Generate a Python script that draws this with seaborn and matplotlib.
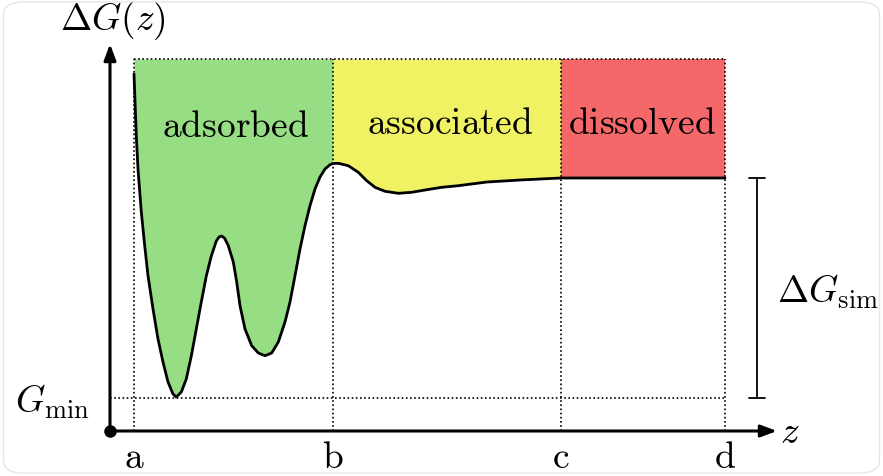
import numpy as np
import pandas as pd
import matplotlib
matplotlib.use("Agg")
import matplotlib.pyplot as plt
from matplotlib.patches import FancyBboxPatch
import seaborn as sns

# Free-energy profile along the surface normal z
z_profile = [0.24, 0.263, 0.28, 0.313, 0.347, 0.38, 0.43, 0.48, 0.53, 0.58, 0.63,
             0.663, 0.713, 0.763, 0.813, 0.863, 0.913, 0.963, 1.013, 1.063, 1.09,
             1.115, 1.145, 1.183, 1.233, 1.267, 1.30, 1.35, 1.417, 1.483, 1.55,
             1.617, 1.683, 1.75, 1.80, 1.85, 1.90, 1.95, 2.00, 2.05, 2.10, 2.15,
             2.20, 2.23, 2.283, 2.383, 2.483, 2.567, 2.65, 2.75, 2.883, 3.017,
             3.15, 3.317, 3.483, 3.77, 4.10, 4.51, 6.15]
g_profile = [3.57, 2.95, 2.62, 2.19, 1.853, 1.553, 1.22, 0.92, 0.69, 0.49, 0.37,
             0.34, 0.39, 0.52, 0.75, 1.02, 1.29, 1.55, 1.75, 1.90, 1.94,
             1.95, 1.93, 1.853, 1.69, 1.49, 1.253, 1.02, 0.853, 0.78, 0.753,
             0.78, 0.89, 1.09, 1.29, 1.553, 1.82, 2.053, 2.253, 2.42, 2.54, 2.62,
             2.663, 2.675, 2.677, 2.653, 2.587, 2.503, 2.437, 2.397, 2.377, 2.387,
             2.41, 2.437, 2.453, 2.49, 2.51, 2.53, 2.53]

# Region boundaries and labels
boundaries = [0.24, 2.23, 4.51, 6.15]
boundary_labels = ["a", "b", "c", "d"]
region_names = ["adsorbed", "associated", "dissolved"]
region_label_pos = [(1.26, 3.05), (3.40, 3.08), (5.32, 3.08)]
region_colors = ["#96dd84", "#f0f264", "#f4686a"]
g_top = 3.72
g_min = 0.33
g_plateau = 2.53

sns.set_theme(style="white")
plt.rcParams["mathtext.fontset"] = "cm"
plt.rcParams["font.family"] = ["DejaVu Serif"]
plt.rcParams["text.color"] = "black"

df = pd.DataFrame({"z": z_profile, "G": g_profile})

fig = plt.figure(figsize=(8.83, 4.77), dpi=100)
ax = fig.add_axes([0, 0, 1, 1])
ax.set_xlim(-1.10, 7.73)
ax.set_ylim(-0.45, 4.32)
ax.axis("off")

z = np.array(z_profile)
g = np.array(g_profile)
for lo, hi, col in zip(boundaries[:-1], boundaries[1:], region_colors):
    m = (z >= lo - 1e-9) & (z <= hi + 1e-9)
    ax.fill_between(z[m], g[m], g_top, color=col, lw=0, zorder=1)

# dotted guide lines
dot = dict(color="black", lw=1.2, ls=(0, (1, 1.5)), zorder=2)
ax.plot([boundaries[0], boundaries[-1]], [g_top, g_top], **dot)
for b in boundaries:
    ax.plot([b, b], [0, g_top], **dot)
ax.plot([0, boundaries[-1]], [g_min, g_min], **dot)

sns.lineplot(data=df, x="z", y="G", ax=ax, color="black", lw=2.0,
             sort=False, estimator=None, zorder=3)
ax.lines[-1].set_solid_joinstyle("round")

# axes arrows
arrow = dict(arrowstyle="-|>,head_length=0.8,head_width=0.3", lw=2.2,
             color="black", shrinkA=0, shrinkB=0)
ax.annotate("", xy=(0, 3.87), xytext=(0, 0), arrowprops=arrow, zorder=4)
ax.annotate("", xy=(6.67, 0), xytext=(0, 0), arrowprops=arrow, zorder=4)
ax.plot([0], [0], "o", color="black", ms=8, zorder=5)

# Delta G_sim bracket
xb = 6.47
ax.plot([xb, xb], [g_min, g_plateau], color="black", lw=1.3)
for yb in (g_min, g_plateau):
    ax.plot([xb - 0.08, xb + 0.08], [yb, yb], color="black", lw=1.3)

fs = 27
for (xt, yt), name in zip(region_label_pos, region_names):
    ax.text(xt, yt, r"$\mathrm{%s}$" % name, fontsize=fs, ha="center", va="center")
ax.text(0.03, 4.02, r"$\Delta G(z)$", fontsize=fs, ha="center", va="baseline")
ax.text(-0.58, 0.30, r"$G_{\mathrm{min}}$", fontsize=fs, ha="center", va="center")
ax.text(7.18, 1.40, r"$\Delta G_{\mathrm{sim}}$", fontsize=fs, ha="center", va="center")
ax.text(6.80, -0.01, r"$z$", fontsize=fs, ha="center", va="center")
for b, lab in zip(boundaries, boundary_labels):
    ax.text(b, -0.26, r"$\mathrm{%s}$" % lab, fontsize=fs, ha="center", va="center")

# soft rounded frame around the figure
frame = FancyBboxPatch((0.004, 0.006), 0.992, 0.988,
                       boxstyle="round,pad=0,rounding_size=0.025",
                       transform=fig.transFigure, fill=False,
                       edgecolor="#e6e6e6", lw=1.0)
fig.patches.append(frame)

fig.savefig("out.png", dpi=100)
